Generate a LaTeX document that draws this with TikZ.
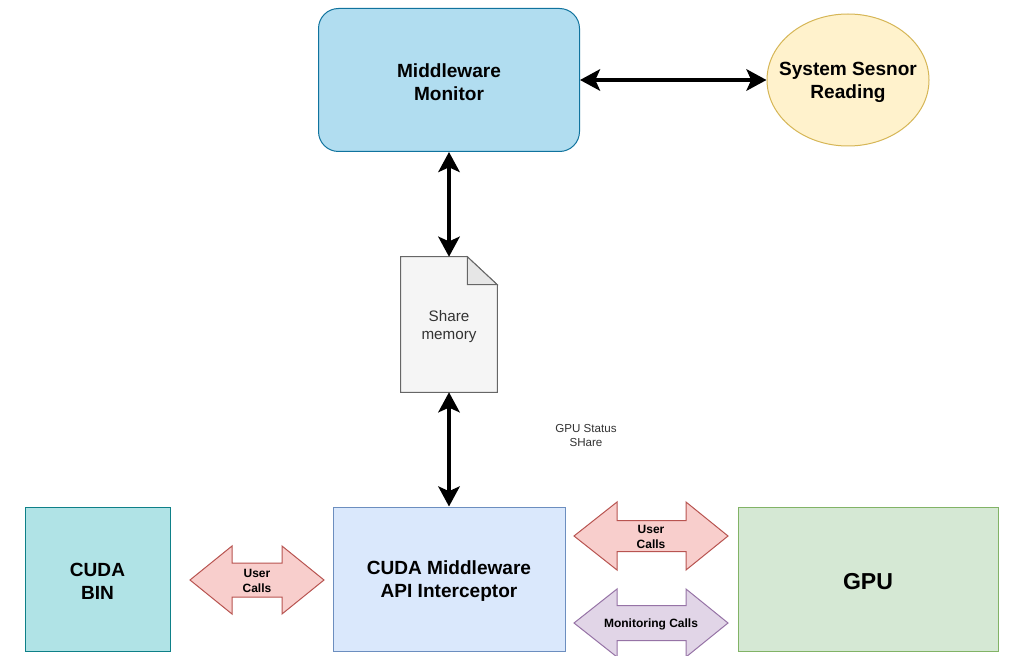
\documentclass[tikz,border=0pt]{standalone}
\usepackage{fontspec}
\setmainfont{Liberation Sans}
\usetikzlibrary{arrows.meta,shapes.geometric}
\definecolor{monfill}{HTML}{B1DDF0}
\definecolor{mondraw}{HTML}{10739E}
\definecolor{sensfill}{HTML}{FFF2CC}
\definecolor{sensdraw}{HTML}{D6B656}
\definecolor{docfill}{HTML}{F5F5F5}
\definecolor{docdraw}{HTML}{666666}
\definecolor{docfold}{HTML}{E6E6E6}
\definecolor{doctext}{HTML}{333333}
\definecolor{binfill}{HTML}{B0E3E6}
\definecolor{bindraw}{HTML}{0E8088}
\definecolor{mwfill}{HTML}{DAE8FC}
\definecolor{mwdraw}{HTML}{6C8EBF}
\definecolor{gpufill}{HTML}{D5E8D4}
\definecolor{gpudraw}{HTML}{82B366}
\definecolor{ucfill}{HTML}{F8CECC}
\definecolor{ucdraw}{HTML}{B85450}
\definecolor{mcfill}{HTML}{E1D5E7}
\definecolor{mcdraw}{HTML}{9673A6}
\begin{document}
\begin{tikzpicture}[x=0.75pt,y=-0.75pt,
  box/.style={draw, line width=0.75pt, inner sep=0pt},
  lbl/.style={align=center, inner sep=0pt, yshift=-1.6pt,
    font=\bfseries\fontsize{14.3}{17.2}\selectfont},
  conn/.style={line width=3pt, {Stealth[length=15pt,width=16pt,inset=3.5pt]}-{Stealth[length=15pt,width=16pt,inset=3.5pt]}},
  blk/.style={line width=0.75pt, line join=miter},
  blklabel/.style={align=center, inner sep=0pt, yshift=-0.8pt, font=\bfseries\fontsize{9}{11.2}\selectfont}]
\useasboundingbox (0,0) rectangle (1010,656);
\fill[white] (0,0) rectangle (1010,656);

% main boxes
\node[box, rounded corners=15pt, fill=monfill, draw=mondraw,
  minimum width=195.75pt, minimum height=107.25pt] (mon) at (449,80) {};
\node[lbl] (monlabel) at (mon.center) {Middleware\\Monitor};
\node[box, ellipse, fill=sensfill, draw=sensdraw,
  minimum width=121.5pt, minimum height=99pt] (sens) at (848,80) {};
\node[lbl] (senslabel) at (sens.center) {System Sesnor\\Reading};
\node[box, fill=binfill, draw=bindraw,
  minimum width=108.75pt, minimum height=108pt] (bin) at (97.5,579) {};
\node[lbl] (binlabel) at (bin.center) {CUDA\\BIN};
\node[box, fill=mwfill, draw=mwdraw,
  minimum width=174pt, minimum height=108pt] (mw) at (449,579) {};
\node[lbl] (mwlabel) at (mw.center) {CUDA Middleware\\API Interceptor};
\node[box, fill=gpufill, draw=gpudraw,
  minimum width=195pt, minimum height=108pt] (gpu) at (868,579) {};
\node[lbl, font=\bfseries\fontsize{17.3}{20}\selectfont] (gpulabel) at (gpu.center) {GPU};

% document (shared memory)
\node[minimum width=72pt, minimum height=101.25pt, inner sep=0pt] (doc) at (449,324.5) {};
\filldraw[fill=docfill, draw=docdraw, line width=0.75pt, line join=miter]
  (doc.north west) -- ([xshift=-22.5pt]doc.north east) -- ([yshift=-21pt]doc.north east)
  -- (doc.south east) -- (doc.south west) -- cycle;
\filldraw[fill=docfold, draw=docdraw, line width=0.75pt, line join=miter]
  ([xshift=-22.5pt]doc.north east) -- ([xshift=-22.5pt,yshift=-21pt]doc.north east)
  -- ([yshift=-21pt]doc.north east) -- cycle;
\node[align=center, text=doctext, inner sep=0pt, font=\fontsize{11.4}{13.5}\selectfont]
  (doclabel) at (449,327) {Share\\memory};

% connectors
\draw[conn] (mon.east) -- (sens.west);
\draw[conn] (mon.south) -- (doc.north);
\draw[conn] (doc.south) -- (mw.north);

\node[align=center, inner sep=0pt, text=doctext, font=\fontsize{8.7}{10.5}\selectfont]
  (status) at (586,436) {GPU Status\\SHare};

% block arrows
\filldraw[blk, fill=ucfill, draw=ucdraw]
  (190,580) -- (232,546) -- (232,563) -- (282,563) -- (282,546) -- (324,580)
  -- (282,614) -- (282,597) -- (232,597) -- (232,614) -- cycle;
\node[blklabel] (uc1) at (257,580) {User\\Calls};

\filldraw[blk, fill=ucfill, draw=ucdraw]
  (574,536) -- (617,502) -- (617,520.5) -- (686,520.5) -- (686,502) -- (728,536)
  -- (686,570) -- (686,551.5) -- (617,551.5) -- (617,570) -- cycle;
\node[blklabel] (uc2) at (651,536) {User\\Calls};

\filldraw[blk, fill=mcfill, draw=mcdraw]
  (574,623) -- (617,589) -- (617,605.5) -- (686,605.5) -- (686,589) -- (728,623)
  -- (686,657) -- (686,640.5) -- (617,640.5) -- (617,657) -- cycle;
\node[blklabel] (mc) at (651,623) {Monitoring Calls};
\end{tikzpicture}
\end{document}
